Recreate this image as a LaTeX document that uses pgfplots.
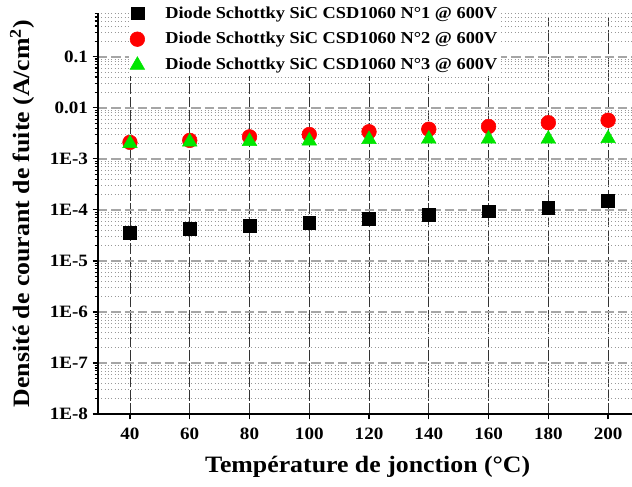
\documentclass[border=0pt]{standalone}
\usepackage{fontspec}
\setmainfont{Liberation Serif}[FakeStretch=1.1]
\usepackage{pgfplots}
\pgfplotsset{compat=1.18}
\definecolor{mkgreen}{RGB}{0,230,0}
\definecolor{mkred}{RGB}{255,0,0}
\begin{document}
\begin{tikzpicture}
\useasboundingbox (-73.5pt,-54pt) rectangle (400.5pt,310.5pt);
\begin{axis}[
  at={(0pt,0pt)}, anchor=south west,
  scale only axis, width=400.5pt, height=300.75pt,
  xmin=29.3, xmax=208,
  ymode=log, ymin=1e-8, ymax=0.72,
  axis x line=bottom, axis y line=left,
  axis line style={-, line width=1.3pt},
  xtick={40,60,...,200},
  ytick={1e-8,1e-7,1e-6,1e-5,1e-4,1e-3,1e-2,1e-1},
  yticklabels={1E-8,1E-7,1E-6,1E-5,1E-4,1E-3,0.01,0.1},
  minor ytick={2e-8,3e-8,4e-8,5e-8,6e-8,7e-8,8e-8,9e-8,
    2e-7,3e-7,4e-7,5e-7,6e-7,7e-7,8e-7,9e-7,
    2e-6,3e-6,4e-6,5e-6,6e-6,7e-6,8e-6,9e-6,
    2e-5,3e-5,4e-5,5e-5,6e-5,7e-5,8e-5,9e-5,
    2e-4,3e-4,4e-4,5e-4,6e-4,7e-4,8e-4,9e-4,
    2e-3,3e-3,4e-3,5e-3,6e-3,7e-3,8e-3,9e-3,
    2e-2,3e-2,4e-2,5e-2,6e-2,7e-2,8e-2,9e-2,
    0.2,0.3,0.4,0.5,0.6,0.7},
  tick align=outside,
  major tick length=4pt, minor tick length=2.5pt,
  tick style={black, line width=0.9pt},
  grid=both,
  major x grid style={black!80, line width=0.55pt, dash pattern=on 8pt off 2pt},
  major y grid style={gray!70, line width=1.4pt, dash pattern=on 7pt off 3pt},
  minor y grid style={gray!80, line width=0.5pt, dotted},
  /pgf/number format/assume math mode=true,
  ticklabel style={font=\bfseries\fontsize{13}{15}\selectfont},
  xticklabel style={yshift=-3pt},
  xlabel={Température de jonction (°C)},
  ylabel={Densité de courant de fuite (A/cm\textsuperscript{2})},
  every axis x label/.style={at={(axis description cs:0.505,-0.132)}, anchor=center, font=\bfseries\fontsize{17.6}{19}\selectfont},
  every axis y label/.style={at={(axis description cs:-0.142,0.5)}, anchor=center, rotate=90, font=\bfseries\fontsize{17.6}{19}\selectfont},
  legend style={at={(axis description cs:0.057,1.027)}, anchor=north west, draw=none, fill=white,
    font=\bfseries\fontsize{12.5}{14}\selectfont, row sep=5.3pt, inner sep=1pt},
  legend cell align=left,
  /tikz/every odd column/.append style={column sep=13.5pt},
  clip=false,
]
\addplot[only marks, mark=square*, mark size=4.8pt, black] coordinates {
(40,3.5e-5) (60,4.2e-5) (80,4.9e-5) (100,5.6e-5) (120,6.6e-5) (140,7.9e-5) (160,9.4e-5) (180,1.1e-4) (200,1.5e-4)};
\addlegendentry{Diode Schottky SiC CSD1060 N°1 @ 600V}
\addplot[only marks, mark=*, mark size=5.5pt, mkred] coordinates {
(40,2.1e-3) (60,2.3e-3) (80,2.7e-3) (100,3.0e-3) (120,3.4e-3) (140,3.8e-3) (160,4.3e-3) (180,5.1e-3) (200,5.7e-3)};
\addlegendentry{Diode Schottky SiC CSD1060 N°2 @ 600V}
\addplot[only marks, mark=triangle*, mark size=6.3pt, mkgreen] coordinates {
(40,2.0e-3) (60,2.15e-3) (80,2.2e-3) (100,2.25e-3) (120,2.4e-3) (140,2.45e-3) (160,2.45e-3) (180,2.45e-3) (200,2.5e-3)};
\addlegendentry{Diode Schottky SiC CSD1060 N°3 @ 600V}
\end{axis}
\end{tikzpicture}
\end{document}
